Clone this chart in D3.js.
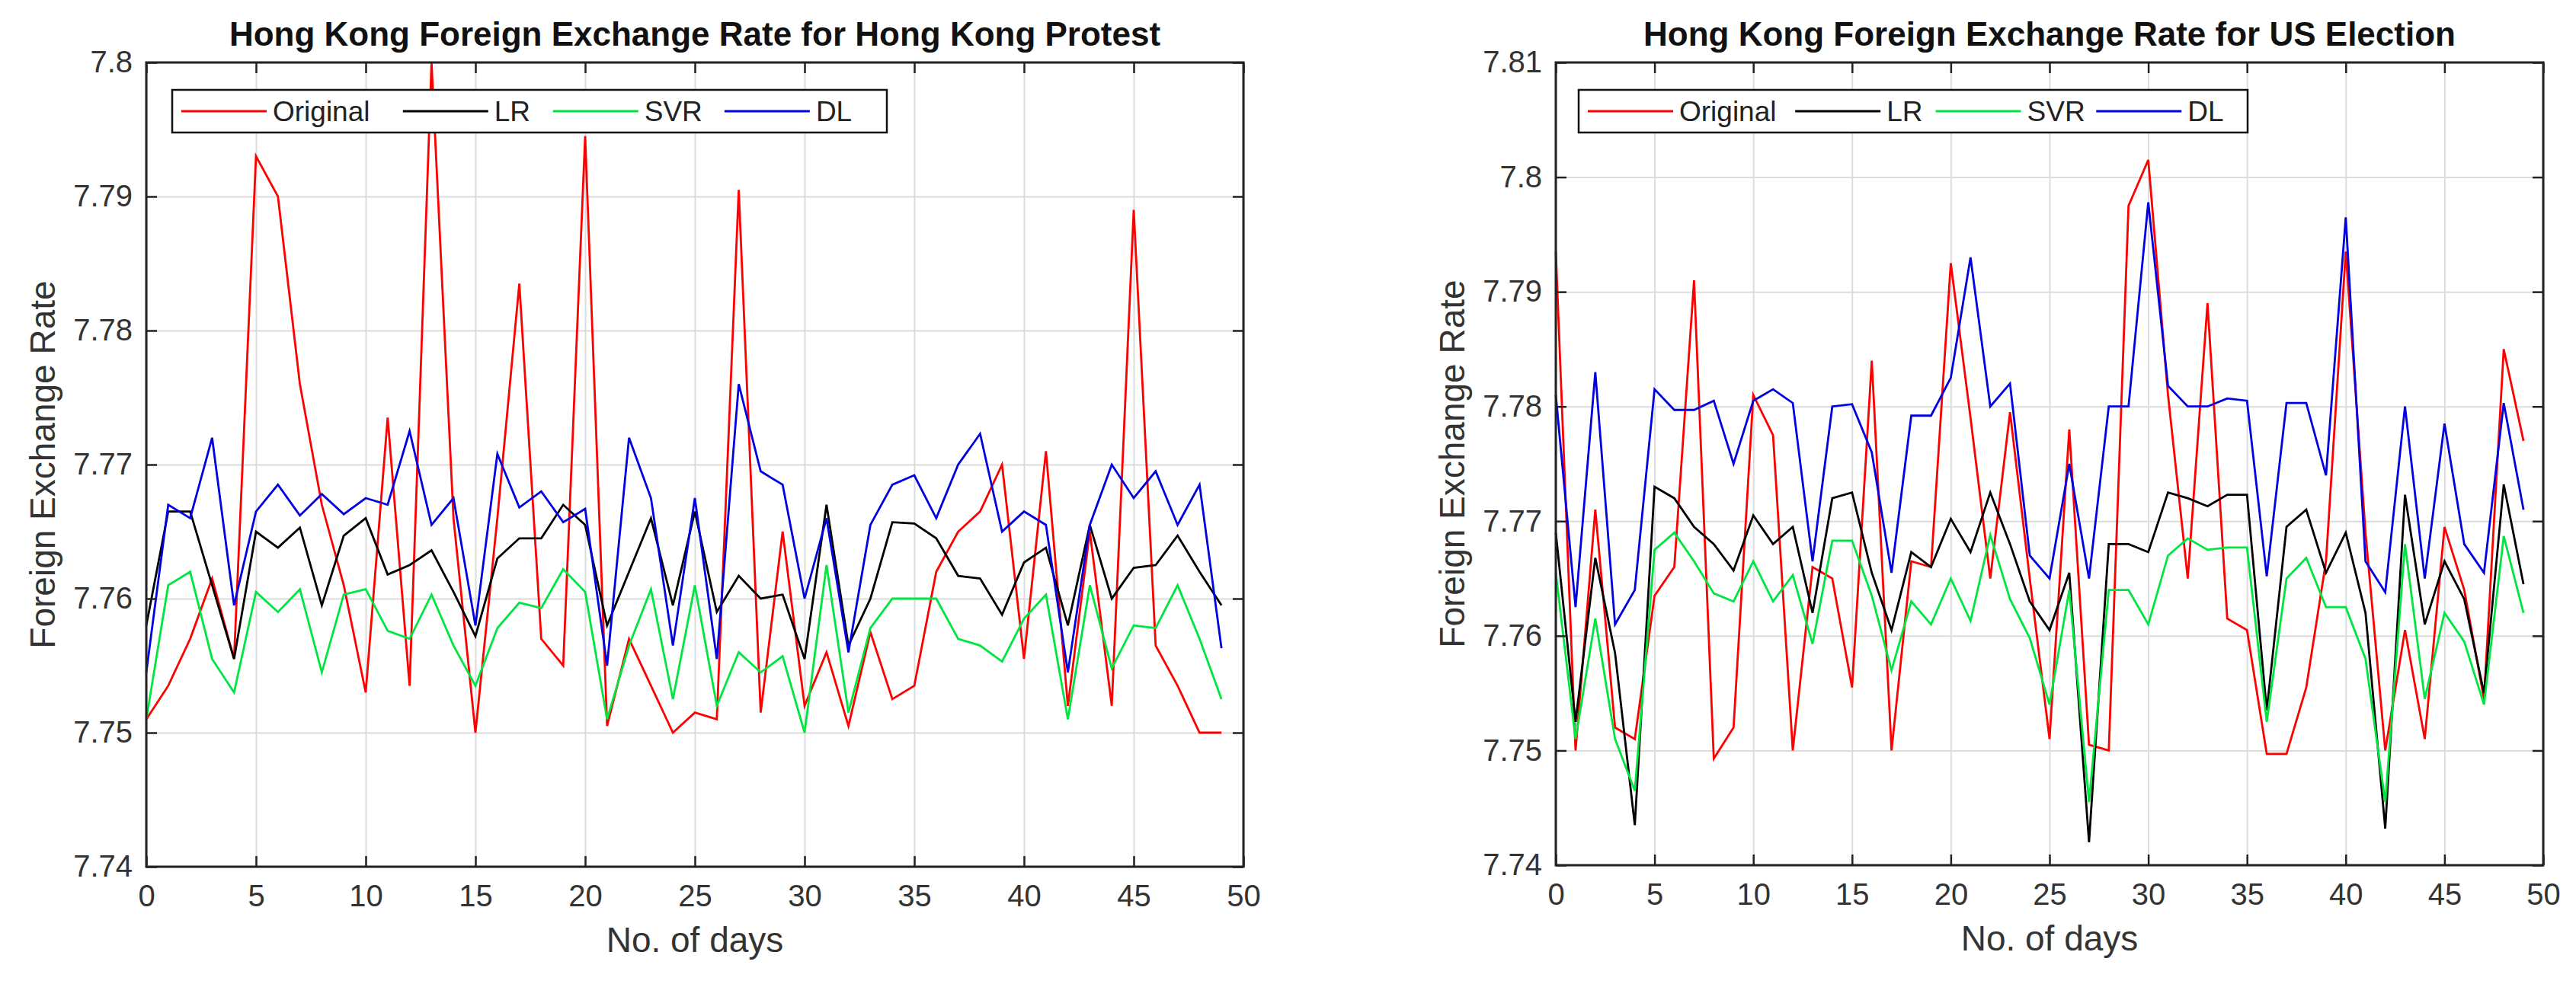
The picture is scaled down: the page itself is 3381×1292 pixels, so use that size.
<!DOCTYPE html>
<html><head><meta charset="utf-8">
<script src="https://cdn.jsdelivr.net/npm/d3@7"></script>
<style>body{margin:0;background:#fff;font-family:Arial,"Liberation Sans",sans-serif}</style>
</head><body>
<svg id="c" width="3381" height="1292"></svg>
<script>
const days = d3.range(50);
const seriesNames = ["Original","LR","SVR","DL"];
const seriesColors = ["#ff0000","#000000","#00e640","#0000e0"];

const hkOriginal = [7.751,7.7535,7.757,7.7615,7.7555,7.793,7.790,7.776,7.767,7.761,7.753,7.7735,7.7535,7.800,7.766,7.750,7.766,7.7835,7.757,7.755,7.7945,7.7505,7.757,7.7535,7.750,7.7515,7.751,7.7905,7.7515,7.765,7.752,7.756,7.7505,7.7575,7.7525,7.7535,7.762,7.765,7.7665,7.770,7.7555,7.771,7.752,7.765,7.752,7.789,7.7565,7.7535,7.750,7.750];
const hkLR = [7.758,7.7665,7.7665,7.761,7.7555,7.765,7.7638,7.7653,7.7595,7.7647,7.766,7.7618,7.7625,7.7636,7.7605,7.7572,7.763,7.7645,7.7645,7.767,7.7655,7.758,7.762,7.766,7.7595,7.7665,7.759,7.7617,7.760,7.7603,7.7555,7.767,7.7565,7.760,7.7657,7.7656,7.7645,7.7617,7.7615,7.7588,7.7627,7.7638,7.758,7.7655,7.760,7.7623,7.7625,7.7647,7.762,7.7595];
const hkSVR = [7.751,7.761,7.762,7.7555,7.753,7.7605,7.759,7.7607,7.7545,7.7603,7.7607,7.7576,7.757,7.7603,7.7565,7.7535,7.7578,7.7597,7.7593,7.7622,7.7605,7.751,7.7565,7.7607,7.7525,7.761,7.752,7.756,7.7545,7.7557,7.750,7.7625,7.7515,7.7578,7.760,7.760,7.760,7.757,7.7565,7.7553,7.7585,7.7603,7.751,7.761,7.7548,7.758,7.7578,7.761,7.757,7.7525];
const hkDL = [7.7545,7.767,7.766,7.772,7.7595,7.7665,7.7685,7.7662,7.7678,7.7663,7.7675,7.767,7.7725,7.7655,7.7675,7.758,7.7708,7.7668,7.768,7.7657,7.7667,7.755,7.772,7.7675,7.7565,7.7675,7.7555,7.776,7.7695,7.7685,7.760,7.766,7.756,7.7655,7.7685,7.7692,7.766,7.770,7.7723,7.765,7.7665,7.7655,7.7545,7.7655,7.770,7.7675,7.7695,7.7655,7.7685,7.7563];

const usOriginal = [7.7935,7.750,7.771,7.752,7.751,7.7635,7.766,7.791,7.7493,7.752,7.781,7.7775,7.750,7.766,7.765,7.7555,7.784,7.750,7.7665,7.766,7.7925,7.779,7.765,7.7795,7.765,7.751,7.778,7.7505,7.750,7.7975,7.8015,7.781,7.765,7.789,7.7615,7.7605,7.7497,7.7497,7.7555,7.7665,7.7935,7.769,7.750,7.7605,7.751,7.7695,7.764,7.7545,7.785,7.777];
const usLR = [7.769,7.7525,7.7668,7.7585,7.7435,7.773,7.772,7.7695,7.768,7.7657,7.7705,7.768,7.7695,7.762,7.772,7.7725,7.7655,7.7605,7.7673,7.766,7.7702,7.7673,7.7725,7.768,7.763,7.7605,7.7655,7.742,7.768,7.768,7.7673,7.7725,7.772,7.7713,7.7723,7.7723,7.7535,7.7695,7.771,7.7655,7.769,7.762,7.7432,7.7723,7.761,7.7665,7.7632,7.755,7.7732,7.7645];
const usSVR = [7.7655,7.751,7.7615,7.751,7.7465,7.7675,7.769,7.7665,7.7637,7.763,7.7665,7.763,7.7653,7.7593,7.7683,7.7683,7.7635,7.757,7.763,7.761,7.765,7.7613,7.7688,7.7632,7.7598,7.754,7.764,7.7455,7.764,7.764,7.761,7.767,7.7685,7.7675,7.7677,7.7677,7.7525,7.765,7.7668,7.7625,7.7625,7.758,7.7455,7.768,7.7545,7.762,7.7595,7.754,7.7687,7.762];
const usDL = [7.781,7.7625,7.783,7.761,7.764,7.7815,7.7797,7.7797,7.7805,7.775,7.7805,7.7815,7.7803,7.7665,7.780,7.7802,7.776,7.7655,7.7792,7.7792,7.7825,7.793,7.780,7.782,7.767,7.765,7.775,7.765,7.780,7.780,7.7978,7.7818,7.780,7.780,7.7807,7.7805,7.7652,7.7803,7.7803,7.774,7.7965,7.7665,7.7638,7.780,7.765,7.7785,7.768,7.7655,7.7803,7.771];

const xTicks = [0,5,10,15,20,25,30,35,40,45,50];
const hkYTicks = [7.74,7.75,7.76,7.77,7.78,7.79,7.8];
const usYTicks = [7.74,7.75,7.76,7.77,7.78,7.79,7.8,7.81];

const svg = d3.select("#c");

function panel(o){
  const g = svg.append("g");
  const x = d3.scaleLinear().domain([0,50]).range([o.x0,o.x1]);
  const y = d3.scaleLinear().domain(o.yDomain).range([o.y1,o.y0]);
  const W=o.x1-o.x0, H=o.y1-o.y0;
  g.append("g").attr("transform",`translate(0,${o.y1})`)
    .call(d3.axisBottom(x).tickValues(xTicks).tickSize(-H).tickFormat(""))
    .call(a=>{a.select(".domain").remove();a.selectAll("line").attr("stroke","#dcdcdc").attr("stroke-width",2).attr("class","grid");});
  g.append("g").attr("transform",`translate(${o.x0},0)`)
    .call(d3.axisLeft(y).tickValues(o.yTicks).tickSize(-W).tickFormat(""))
    .call(a=>{a.select(".domain").remove();a.selectAll("line").attr("stroke","#dcdcdc").attr("stroke-width",2).attr("class","grid");});
  const line = d3.line().x((d,i)=>x(days[i])).y(d=>y(d));
  o.data.forEach((s,i)=>{
    g.append("path").datum(s).attr("d",line).attr("fill","none")
      .attr("stroke",seriesColors[i]).attr("stroke-width",2.8);
  });
  const tk=14, fs=40;
  g.append("g").attr("transform",`translate(0,${o.y1})`)
    .call(d3.axisBottom(x).tickValues(xTicks).tickSizeInner(-tk).tickSizeOuter(0).tickPadding(24).tickFormat(d3.format("d")));
  g.append("g").attr("transform",`translate(${o.x0},0)`)
    .call(d3.axisLeft(y).tickValues(o.yTicks).tickSizeInner(-tk).tickSizeOuter(0).tickPadding(18).tickFormat(d=>String(+d.toFixed(2))));
  g.append("g").attr("transform",`translate(0,${o.y0})`)
    .call(d3.axisTop(x).tickValues(xTicks).tickSizeInner(-tk).tickSizeOuter(0).tickFormat(""));
  g.append("g").attr("transform",`translate(${o.x1},0)`)
    .call(d3.axisRight(y).tickValues(o.yTicks).tickSizeInner(-tk).tickSizeOuter(0).tickFormat(""));
  g.selectAll(".tick line:not(.grid)").attr("stroke","#222").attr("stroke-width",2.5);
  g.selectAll(".tick text").attr("font-size",fs).attr("fill","#333").attr("font-family","Arial,'Liberation Sans',sans-serif");
  g.selectAll(".domain").remove();
  g.append("rect").attr("x",o.x0).attr("y",o.y0).attr("width",W).attr("height",H)
    .attr("fill","none").attr("stroke","#222").attr("stroke-width",3);
  g.append("text").attr("x",(o.x0+o.x1)/2).attr("y",o.titleY).attr("text-anchor","middle")
    .attr("font-size",44).attr("font-weight","bold").attr("fill","#111").text(o.title);
  g.append("text").attr("x",(o.x0+o.x1)/2).attr("y",o.y1+112).attr("text-anchor","middle")
    .attr("font-size",46).attr("fill","#333").text("No. of days");
  g.append("text").attr("transform",`translate(${o.yLabX},${(o.y0+o.y1)/2}) rotate(-90)`).attr("text-anchor","middle")
    .attr("font-size",46).attr("fill","#333").text("Foreign Exchange Rate");
  const L=o.leg;
  g.append("rect").attr("x",L.x).attr("y",L.y).attr("width",L.w).attr("height",L.h)
    .attr("fill","#fff").attr("stroke","#111").attr("stroke-width",2.5);
  const offs=[0,0.31,0.52,0.76];
  seriesNames.forEach((n,i)=>{
    const sx=L.x+L.w*offs[i]+12, cy=L.y+L.h/2;
    g.append("line").attr("x1",sx).attr("x2",sx+112).attr("y1",cy).attr("y2",cy)
      .attr("stroke",seriesColors[i]).attr("stroke-width",2.8);
    g.append("text").attr("x",sx+120).attr("y",cy+13).attr("font-size",37).attr("fill","#222").text(n);
  });
}

panel({x0:192,x1:1632,y0:82,y1:1138,yDomain:[7.74,7.8],yTicks:hkYTicks,titleY:60,yLabX:72,
  title:"Hong Kong Foreign Exchange Rate for Hong Kong Protest",
  data:[hkOriginal,hkLR,hkSVR,hkDL],leg:{x:226,y:118,w:938,h:56}});
panel({x0:2042,x1:3338,y0:82,y1:1136,yDomain:[7.74,7.81],yTicks:usYTicks,titleY:60,yLabX:1922,
  title:"Hong Kong Foreign Exchange Rate for US Election",
  data:[usOriginal,usLR,usSVR,usDL],leg:{x:2072,y:118,w:878,h:56}});
</script>
</body></html>
